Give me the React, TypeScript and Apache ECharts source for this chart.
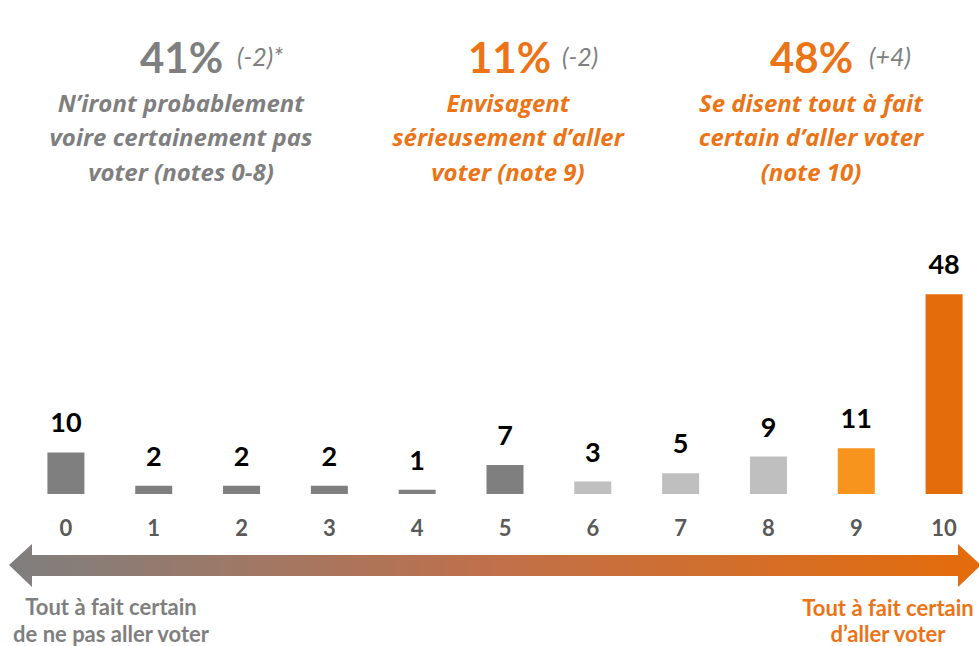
import React, { useEffect, useRef } from "react";
import * as echarts from "echarts";

const categories = ["0", "1", "2", "3", "4", "5", "6", "7", "8", "9", "10"];
const values = [10, 2, 2, 2, 1, 7, 3, 5, 9, 11, 48];

const headlinePercents = ["41%", "11%", "48%"];
const headlineChanges = ["(-2)*", "(-2)", "(+4)"];
const headlineCaptions = [
  ["N’iront probablement", "voire certainement pas", "voter (notes 0-8)"],
  ["Envisagent", "sérieusement d’aller", "voter (note 9)"],
  ["Se disent tout à fait", "certain d’aller voter", "(note 10)"],
];
const leftScaleLabel = ["Tout à fait certain", "de ne pas aller voter"];
const rightScaleLabel = ["Tout à fait certain", "d’aller voter"];

const GRAY_DARK = "#7f7f7f";
const GRAY_LIGHT = "#bfbfbf";
const ORANGE_LIGHT = "#f7941d";
const ORANGE_DARK = "#e46c0a";
const TEXT_ORANGE = "#eb7417";
const FONT = "Lato, 'Open Sans', sans-serif";
const CAPTION_FONT = "'Open Sans', Lato, sans-serif";

function barColor(i: number): string {
  if (i <= 5) return GRAY_DARK;
  if (i <= 8) return GRAY_LIGHT;
  if (i === 9) return ORANGE_LIGHT;
  return ORANGE_DARK;
}

export default function App() {
  const ref = useRef<HTMLDivElement>(null);
  useEffect(() => {
    if (!ref.current) return;
    const chart = echarts.init(ref.current, null, { renderer: "svg" });

    const headerCenters = [181, 508, 811];
    const pctPos = [
      { x: 140, cx: 237 },
      { x: 468, cx: 562 },
      { x: 770, cx: 869 },
    ];
    const pctColors = [GRAY_DARK, TEXT_ORANGE, TEXT_ORANGE];
    const graphics: any[] = [];
    headlinePercents.forEach((p, i) => {
      graphics.push({
        type: "text",
        left: pctPos[i].x,
        top: 36,
        style: {
          text: p,
          fill: pctColors[i],
          font: `bold 42px ${FONT}`,
        },
      });
      graphics.push({
        type: "text",
        left: pctPos[i].cx,
        top: 43,
        style: {
          text: headlineChanges[i],
          fill: GRAY_DARK,
          font: `italic 25px ${FONT}`,
        },
      });
      headlineCaptions[i].forEach((line, j) => {
        graphics.push({
          type: "text",
          x: headerCenters[i],
          y: 102 + j * 34.5,
          style: {
            text: line,
            fill: pctColors[i],
            font: `italic bold 24px ${CAPTION_FONT}`,
            align: "center",
            verticalAlign: "middle",
          },
        });
      });
    });

    // double arrow
    graphics.push({
      type: "polygon",
      shape: {
        points: [
          [9, 565],
          [32, 544],
          [32, 555],
          [958, 555],
          [958, 544],
          [981, 565],
          [958, 587],
          [958, 576],
          [32, 576],
          [32, 587],
        ],
      },
      style: {
        fill: new echarts.graphic.LinearGradient(0, 0, 1, 0, [
          { offset: 0, color: "#7f7f7f" },
          { offset: 0.5, color: "#c0704a" },
          { offset: 1, color: "#e46c0a" },
        ]),
      },
    });

    leftScaleLabel.forEach((line, j) => {
      graphics.push({
        type: "text",
        x: 111,
        y: 606 + j * 27,
        style: {
          text: line,
          fill: GRAY_DARK,
          font: `bold 22px ${FONT}`,
          align: "center",
          verticalAlign: "middle",
        },
      });
    });
    rightScaleLabel.forEach((line, j) => {
      graphics.push({
        type: "text",
        x: 888,
        y: 607 + j * 26,
        style: {
          text: line,
          fill: TEXT_ORANGE,
          font: `bold 22px ${FONT}`,
          align: "center",
          verticalAlign: "middle",
        },
      });
    });

    chart.setOption({
      animation: false,
      grid: { left: 22, width: 966, top: 286, height: 208, outerBoundsMode: "none", containLabel: false },
      xAxis: {
        type: "category",
        data: categories,
        axisLine: { show: false },
        axisTick: { show: false },
        axisLabel: {
          color: "#595959",
          fontWeight: "bold",
          fontSize: 22,
          fontFamily: FONT,
          margin: 22,
        },
      },
      yAxis: {
        type: "value",
        min: 0,
        max: 50,
        show: false,
        splitLine: { show: false },
      },
      series: [
        {
          type: "bar",
          barWidth: 37,
          data: values.map((v, i) => ({
            value: v,
            itemStyle: { color: barColor(i) },
          })),
          label: {
            show: true,
            position: "top",
            distance: 17,
            color: "#000",
            fontWeight: "bold",
            fontSize: 27,
            fontFamily: FONT,
          },
        },
      ],
      graphic: graphics,
    });
    return () => chart.dispose();
  }, []);
  return (
    <div
      ref={ref}
      style={{ position: "fixed", left: 0, top: 0, width: 979, height: 646, background: "#fff" }}
    />
  );
}
